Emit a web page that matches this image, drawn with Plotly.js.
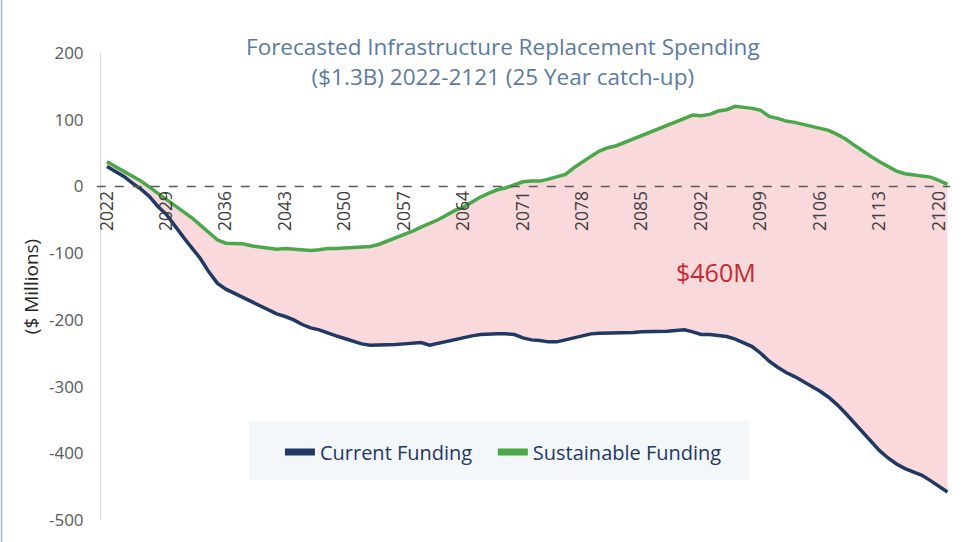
<!DOCTYPE html>
<html>
<head>
<meta charset="utf-8">
<script src="https://cdn.plot.ly/plotly-3.0.1.min.js"></script>
<style>html,body{margin:0;padding:0;background:#fff;}#chart{width:967px;height:542px;}</style>
</head>
<body>
<div id="chart"></div>
<script>
// Years 2022..2121
const years = [];
for (let y = 2022; y <= 2121; y++) years.push(y);

const currentFunding = [
  30, 22, 15, 5, -4, -15, -30, -42, -60, -76,
  -92, -108, -128, -145, -154, -160, -166, -172, -178, -185,
  -191, -195, -200, -207, -212, -215, -220, -224, -228, -232,
  -236, -238, -238, -237, -237, -236, -235, -234, -238, -235,
  -233, -230, -227, -224, -222, -221, -221, -221, -222, -227,
  -230, -231, -233, -233, -230, -227, -224, -221, -220, -220,
  -220, -219, -219, -218, -218, -217, -217, -216, -215, -218,
  -222, -222, -223, -225, -229, -235, -240, -250, -262, -271,
  -279, -285, -292, -300, -307, -316, -327, -340, -354, -368,
  -382, -396, -407, -416, -423, -428, -433, -441, -450, -458
];

const sustainableFunding = [
  37, 30, 22, 15, 8, -1, -10, -19, -28, -37,
  -47, -58, -69, -80, -85, -85, -86, -89, -91, -93,
  -94, -93, -94, -96, -96, -95, -93, -93, -92, -92,
  -91, -90, -87, -82, -77, -73, -67, -61, -56, -50,
  -43, -36, -31, -23, -16, -10, -5, -2, 3, 7,
  8, 8, 11, 15, 18, 28, 37, 45, 53, 58,
  61, 66, 72, 77, 82, 87, 91, 96, 102, 107,
  106, 108, 113, 115, 120, 119, 117, 114, 105, 102,
  98, 96, 93, 90, 87, 84, 78, 71, 62, 53,
  45, 37, 30, 23, 19, 17, 15, 14, 9, 3
];

const tickYears = [2022, 2029, 2036, 2043, 2050, 2057, 2064, 2071, 2078, 2085, 2092, 2099, 2106, 2113, 2120];
const yTicks = [200, 100, 0, -100, -200, -300, -400, -500];
const seriesNames = ['Current Funding', 'Sustainable Funding'];
const chartTitle = 'Forecasted Infrastructure Replacement Spending<br>($1.3B) 2022-2121 (25 Year catch-up)';
const gapLabel = '$460M';

const navy = '#1f3864';
const green = '#4aa84a';
const pink = '#f9d9dc';
const FONT = 'Open Sans, sans-serif';

const traces = [
  {x: years, y: currentFunding, type: 'scatter', mode: 'lines', name: seriesNames[0],
   line: {color: navy, width: 3.5}, showlegend: false, hoverinfo: 'skip'},
  {x: years, y: sustainableFunding, type: 'scatter', mode: 'lines', name: seriesNames[1],
   line: {color: green, width: 3.5}, fill: 'tonexty', fillcolor: pink, showlegend: false, hoverinfo: 'skip'},
  {x: [null], y: [null], type: 'scatter', mode: 'lines', name: seriesNames[0] + '   ', line: {color: navy, width: 7}},
  {x: [null], y: [null], type: 'scatter', mode: 'lines', name: seriesNames[1], line: {color: green, width: 7}}
];

const layout = {
  width: 967, height: 542,
  margin: {l: 101, r: 17, t: 53, b: 22},
  paper_bgcolor: '#ffffff', plot_bgcolor: 'rgba(0,0,0,0)',
  font: {family: FONT, color: '#595959'},
  title: {text: chartTitle, font: {family: FONT, size: 22.5, color: '#5b7ba3'},
          x: 0.52, xanchor: 'center', xref: 'container', y: 0.898, yanchor: 'middle', yref: 'container'},
  xaxis: {
    range: [2021.3, 2121.3], anchor: 'free', position: 5/7,
    tickmode: 'array', tickvals: tickYears, ticktext: tickYears.map(String),
    tickangle: -90, ticks: '', showgrid: false, zeroline: false, showline: false,
    tickfont: {family: FONT, size: 17.5, color: '#404040'}
  },
  yaxis: {
    range: [-500, 200], tickmode: 'array', tickvals: yTicks, ticktext: yTicks.map(String),
    showgrid: false, zeroline: false, showline: true, linecolor: '#d9d9d9', linewidth: 1,
    ticks: '', ticklabelstandoff: 13,
    tickfont: {family: FONT, size: 17, color: '#595959'},
    title: {text: '($ Millions)', font: {family: FONT, size: 19, color: '#262626'}, standoff: 5}
  },
  shapes: [
    {type: 'rect', xref: 'paper', yref: 'paper', x0: 0.1743, x1: 0.7633, y0: 0.0857, y1: 0.212,
     fillcolor: '#f4f7f9', line: {width: 0}, layer: 'below'},
    {type: 'line', xref: 'paper', yref: 'y', x0: -0.005, x1: 1, y0: 0, y1: 0,
     line: {color: '#595959', width: 1.5, dash: 'dash'}},
    {type: 'line', xref: 'paper', yref: 'paper', x0: -0.1172, x1: -0.1172, y0: -0.05, y1: 1.12,
     line: {color: '#a9b8cf', width: 1.5}}
  ],
  annotations: [
    {x: 2093.7, y: -129, xref: 'x', yref: 'y', text: gapLabel, showarrow: false,
     font: {family: FONT, size: 25, color: '#c8282e'}}
  ],
  legend: {
    orientation: 'h', x: 0.474, xanchor: 'center', y: 0.1456, yanchor: 'middle',
    bgcolor: 'rgba(0,0,0,0)', font: {family: FONT, size: 20, color: navy},
    itemwidth: 30, traceorder: 'normal'
  },
  showlegend: true
};

Plotly.newPlot('chart', traces, layout, {displayModeBar: false, staticPlot: true});
</script>
</body>
</html>
